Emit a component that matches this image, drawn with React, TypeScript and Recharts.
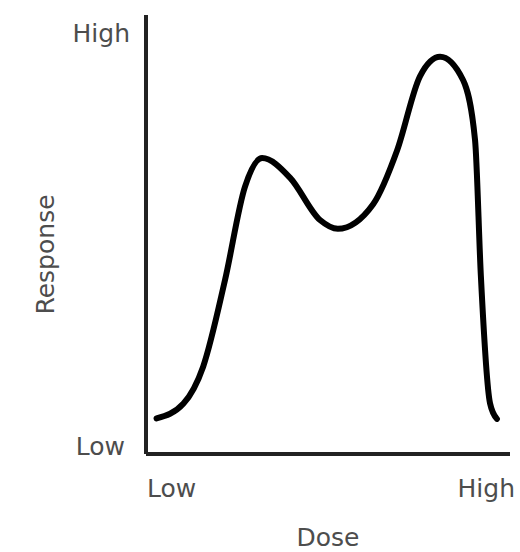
import React from 'react';
import { LineChart, Line, XAxis, YAxis, Label } from 'recharts';

// dose / response are on a 0..100 scale (Low .. High)
const DOSE = [
  2.9, 10.3, 15.7, 21.7, 27.2, 31.9, 39.6, 47.8, 52.7,
  62.4, 69.0, 75.3, 80.8, 87.1, 90.4, 92.0, 94.5, 96.4,
];
const RESPONSE = [
  8.1, 11.5, 19.9, 39.6, 60.9, 67.4, 62.9, 53.3, 51.3,
  56.9, 69.2, 86.1, 90.5, 85.2, 71.5, 40.5, 11.6, 8.0,
];
const TICK_VALUES = [0, 100];
const TICK_LABELS = ['Low', 'High'];

const FONT = '"DejaVu Sans", sans-serif';
const TEXT_COLOR = '#4d4d4d';

const data = DOSE.map((d, i) => ({ dose: d, response: RESPONSE[i] }));

const XTick = (props: any) => {
  const { x, y, payload } = props;
  const isLow = payload.value === TICK_VALUES[0];
  return (
    <text
      x={isLow ? x + 1 : x + 7}
      y={y + 34}
      textAnchor={isLow ? 'start' : 'end'}
      dominantBaseline="central"
      fontFamily={FONT}
      fontSize={25}
      fill={TEXT_COLOR}
    >
      {isLow ? TICK_LABELS[0] : TICK_LABELS[1]}
    </text>
  );
};

const YTick = (props: any) => {
  const { x, y, payload } = props;
  const isLow = payload.value === TICK_VALUES[0];
  return (
    <text
      x={isLow ? x - 21 : x - 16}
      y={isLow ? y - 8 : y + 18}
      textAnchor="end"
      dominantBaseline="central"
      fontFamily={FONT}
      fontSize={25}
      fill={TEXT_COLOR}
    >
      {isLow ? TICK_LABELS[0] : TICK_LABELS[1]}
    </text>
  );
};

export default function App() {
  return (
    <div style={{ position: 'absolute', left: 0, top: 0, background: '#fff' }}>
      <LineChart
        width={520}
        height={552}
        data={data}
        margin={{ top: 15, right: 10, left: 0, bottom: 0 }}
      >
        <XAxis
          dataKey="dose"
          type="number"
          domain={[0, 100]}
          ticks={TICK_VALUES}
          tick={<XTick />}
          tickLine={false}
          tickSize={0}
          tickMargin={0}
          height={98}
          axisLine={{ stroke: '#222', strokeWidth: 4 }}
        >
          <Label
            value="Dose"
            position="insideBottom"
            offset={6}
            style={{ fontFamily: FONT, fontSize: 25, fill: TEXT_COLOR }}
          />
        </XAxis>
        <YAxis
          type="number"
          domain={[0, 100]}
          ticks={TICK_VALUES}
          tick={<YTick />}
          tickLine={false}
          tickSize={0}
          tickMargin={0}
          width={146}
          axisLine={{ stroke: '#222', strokeWidth: 4 }}
        >
          <Label
            content={(p: any) => {
              const vb = p.viewBox || { x: 0, y: 15, width: 146, height: 439 };
              const cx = vb.x + 45;
              const cy = vb.y + vb.height / 2 + 20;
              return (
                <text
                  x={cx}
                  y={cy}
                  transform={`rotate(-90 ${cx} ${cy})`}
                  textAnchor="middle"
                  dominantBaseline="central"
                  fontFamily={FONT}
                  fontSize={25}
                  fill={TEXT_COLOR}
                >
                  Response
                </text>
              );
            }}
          />
        </YAxis>
        <Line
          type="monotone"
          dataKey="response"
          stroke="#000"
          strokeWidth={6}
          strokeLinecap="round"
          dot={false}
          activeDot={false}
          isAnimationActive={false}
        />
      </LineChart>
    </div>
  );
}
